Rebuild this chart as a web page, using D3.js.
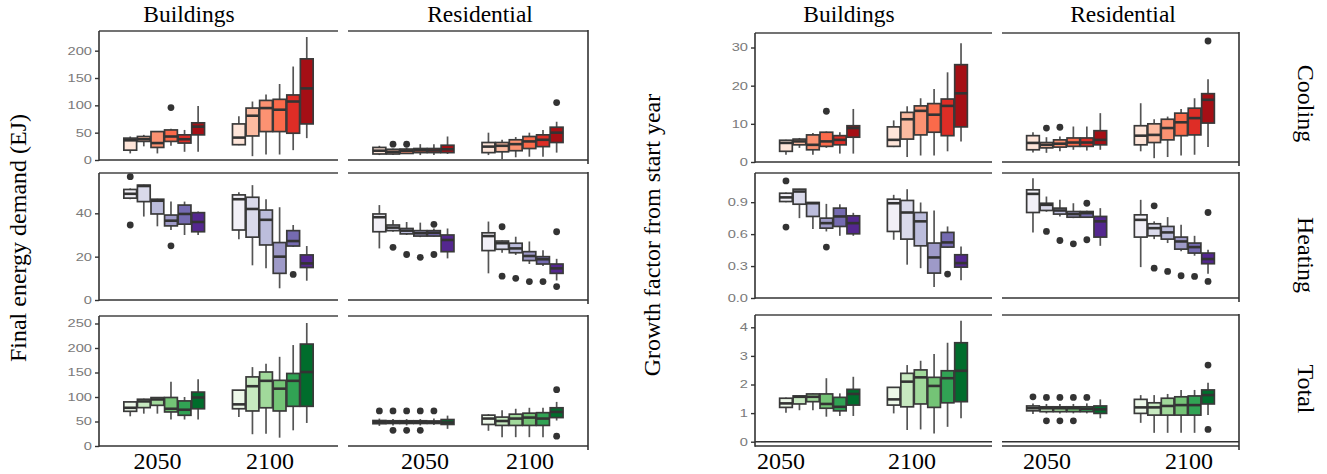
<!DOCTYPE html>
<html><head><meta charset="utf-8">
<script src="https://cdn.jsdelivr.net/npm/d3@7"></script>
<style>body{margin:0;background:#fff}</style>
</head><body><svg id="c" width="1327" height="474"></svg>
<script>
// ---------- DATA ----------
const years = ["2050", "2100"];
const columns = ["Buildings", "Residential"];
const rowLabels = ["Cooling", "Heating", "Total"];
const leftYTitle = "Final energy demand (EJ)";
const rightYTitle = "Growth factor from start year";

const ticksEnergyCooling = [0, 50, 100, 150, 200];
const ticksEnergyHeating = [0, 20, 40];
const ticksEnergyTotal = [0, 50, 100, 150, 200, 250];
const ticksGrowthCooling = [0, 10, 20, 30];
const ticksGrowthHeating = [0, 0.3, 0.6, 0.9];
const ticksGrowthTotal = [0, 1, 2, 3, 4];

// box stats: [lower whisker, q1, median, q3, upper whisker]; 6 boxes for 2050, then 6 for 2100
const energyCoolingBuildings = [
  [12,18,36,40,43],[25,34,38,43,46],[12,23,31,52,53],[26,34,43,55,57],[15,31,38,46,55],[15,46,61,68,99],
  [27,28,41,66,80],[7,44,81,95,107],[10,52,95,109,120],[10,52,92,111,139],[18,49,107,119,171],[40,66,131,185,225]];
const energyCoolingBuildingsOut = [[3,96]]; // [box index, value]
const energyCoolingResidential = [
  [9,11,17,23,26],[9,11,15,19.6,21],[11,12,17,20,23],[9,13.5,17.7,21,29],[9,13.5,17.5,21,29],[11,13.5,19.6,27,43],
  [9,13.5,24.5,32,50],[1,15,26,32,37],[5,17,29,37,42],[6,21,34,43,50],[6,24.5,37,46,55],[13.5,32,50,60,70]];
const energyCoolingResidentialOut = [[1,29],[2,29],[11,105]];

const energyHeatingBuildings = [
  [46.5,47,49,51,51.5],[38.5,45.4,52.6,53,53.2],[34,39.7,45.8,46.5,46.7],[32.3,34.2,36.6,39.2,45.4],[30,35,39.7,43.8,45.4],[30,31.5,36,40.3,40.8],
  [28,32.3,46.5,48.5,49.7],[16,29,42,47.4,53],[14.6,25.4,37,41.5,46.5],[5.4,12.3,20,26.5,42.8],[24.5,24.9,27.2,32,34.6],[8.9,15,16.9,20.8,24.9]];
const energyHeatingBuildingsOut = [[0,56.9],[0,34.6],[3,25],[10,11.8]];
const energyHeatingResidential = [
  [23.8,31.5,38.2,39.7,43.8],[31.5,32,33.4,34.6,36.9],[30,30.5,32,33,36],[29,29.5,30.8,32,35.7],[29.3,29.5,31,32,33],[19.2,22.3,27.7,30,33],
  [12.3,22.8,29.5,31,36.2],[21.8,23.4,26.2,27.2,27.5],[20.8,21.8,23.8,26.2,29.2],[16.6,18.2,20.3,22.3,27],[15.7,16.6,18.8,20,23],[9,12.3,14.6,16.6,19]];
const energyHeatingResidentialOut = [[1,24.3],[2,21],[3,19.7],[4,34.9],[4,21],[7,33.8],[7,11],[8,10],[9,8.5],[10,8.5],[11,31.5],[11,6.2]];

const energyTotalBuildings = [
  [60.6,70.8,78,90,91],[66,78.3,91,95.4,96.7],[66,83,95,98.8,99.5],[54,69.5,76,99,131],[54,62.7,74,92,100],[54,76,99,110,136],
  [59,76,85,114,114.5],[24,71.5,122,141,161],[25,78,133,151,168],[17,71.5,117,134,182],[32,81,133,148,206],[47,81,151,208,251]];
const energyTotalBuildingsOut = [];
const energyTotalResidential = [
  [41,45.5,49,52,56],[42,46,48.5,51.5,55],[42,46,48.5,51.5,55],[42,46,48.5,51.5,55],[43,46,49,51,56],[35,44,48,54,62],
  [31,44,56,63,65],[18,42,51,59,73],[18,42,56,65,76],[18,42,58,67,78],[18,42,56,68,78],[52,58,69.5,78,90]];
const energyTotalResidentialOut = [[0,71.5],[1,71.5],[2,71.5],[3,71.5],[4,71.5],[1,32],[2,32],[3,32],[11,115],[11,20]];

const growthCoolingBuildings = [
  [1.9,2.8,5,5.7,5.8],[3.7,4.5,5.4,6,6.3],[1.9,3.2,4.5,7.1,7.6],[3.7,4.1,5.4,7.8,8],[2.2,4.5,5.8,6.9,7.8],[2.2,6.5,8.9,9.5,13.9],
  [3.9,4.1,5.8,9.2,10.9],[1.3,6,11.2,13,14.6],[1.7,7.1,13.4,14.7,16.7],[1.7,7.8,12.4,15.3,19.1],[2.8,6.9,14.7,16.5,23.5],[5.4,9.2,18,25.5,31.1]];
const growthCoolingBuildingsOut = [[3,13.3]];
const growthCoolingResidential = [
  [2.5,3.2,5,6.9,7.8],[2.4,3.7,4.5,5.1,6.5],[2.8,3.9,4.8,5.8,6.7],[3.2,4.1,5.1,6.3,9.3],[3,4.1,5.1,6.3,9.3],[3.2,4.5,5.8,8.2,12.8],
  [2.8,4.5,6.9,9.5,15.4],[1,5.1,7.1,10,11.2],[1.3,5.8,8.9,11.2,11.9],[1.7,6.9,10.4,12.8,13.9],[1.9,7.1,11.5,14.1,16.7],[3.9,10.2,16.3,17.9,21.7]];
const growthCoolingResidentialOut = [[1,8.9],[2,9.1],[11,31.7]];

const growthHeatingBuildings = [
  [0.9,0.906,0.945,0.984,0.99],[0.75,0.881,1.0,1.022,1.025],[0.647,0.766,0.89,0.897,0.9],[0.625,0.656,0.703,0.75,0.884],[0.584,0.672,0.766,0.844,0.88],[0.584,0.603,0.703,0.772,0.8],
  [0.547,0.625,0.89,0.928,0.969],[0.313,0.553,0.803,0.916,1.022],[0.28,0.49,0.72,0.803,0.897],[0.103,0.234,0.381,0.516,0.822],[0.47,0.478,0.522,0.616,0.672],[0.166,0.29,0.328,0.406,0.484]];
const growthHeatingBuildingsOut = [[0,1.1],[0,0.666],[3,0.478],[10,0.225]];
const growthHeatingResidential = [
  [0.616,0.803,0.978,1.016,1.125],[0.81,0.822,0.875,0.89,0.953],[0.766,0.788,0.822,0.844,0.922],[0.75,0.759,0.788,0.812,0.89],[0.755,0.759,0.797,0.812,0.82],[0.49,0.572,0.72,0.766,0.844],
  [0.29,0.572,0.734,0.781,0.922],[0.553,0.584,0.656,0.697,0.72],[0.516,0.553,0.616,0.672,0.76],[0.438,0.459,0.531,0.572,0.688],[0.397,0.422,0.478,0.516,0.584],[0.228,0.322,0.366,0.422,0.453]];
const growthHeatingResidentialOut = [[1,0.625],[2,0.54],[3,0.509],[4,0.89],[4,0.547],[7,0.866],[7,0.28],[8,0.25],[9,0.209],[10,0.203],[11,0.803],[11,0.156]];

const growthTotalBuildings = [
  [1.01,1.2,1.34,1.52,1.55],[1.1,1.32,1.57,1.6,1.61],[1.1,1.4,1.57,1.67,1.69],[0.875,1.17,1.32,1.67,2.22],[0.9,1.08,1.22,1.55,1.69],[0.9,1.28,1.67,1.83,2.27],
  [0.99,1.28,1.48,1.9,1.91],[0.41,1.22,2.1,2.39,2.68],[0.43,1.32,2.25,2.51,2.83],[0.29,1.2,1.95,2.25,3.07],[0.52,1.36,2.22,2.48,3.46],[0.82,1.4,2.48,3.46,4.23]];
const growthTotalBuildingsOut = [];
const growthTotalResidential = [
  [0.97,1.08,1.17,1.25,1.34],[0.99,1.05,1.17,1.22,1.32],[0.99,1.05,1.17,1.22,1.32],[0.99,1.05,1.17,1.22,1.32],[0.99,1.05,1.15,1.22,1.34],[0.82,0.99,1.13,1.25,1.48],
  [0.66,0.99,1.2,1.48,1.63],[0.31,0.93,1.2,1.36,1.63],[0.31,0.93,1.25,1.52,1.67],[0.31,0.93,1.28,1.57,1.81],[0.31,0.93,1.28,1.6,1.81],[0.93,1.32,1.63,1.81,2.06]];
const growthTotalResidentialOut = [[0,1.57],[1,1.55],[2,1.55],[3,1.55],[4,1.55],[1,0.73],[2,0.73],[3,0.73],[11,2.68],[11,0.43]];

// ---------- STYLE / LAYOUT ----------
const palettes = [
  ["#FEE5D9","#FCBBA1","#FC9272","#FB6A4A","#DE2D26","#A50F15"],
  ["#F2F0F7","#DADAEB","#BCBDDC","#9E9AC8","#756BB1","#54278F"],
  ["#EDF8E9","#C7E9C0","#A1D99B","#74C476","#31A354","#006D2C"]
];
const serif = "'Liberation Serif','Times New Roman',serif";
const figures = [
  {
    cols: [[99,338],[348,588]],
    rows: [[31,160],[173,300],[316,446]],
    domains: [[0,236],[0,58.6],[0,265.3]],
    ticks: [ticksEnergyCooling, ticksEnergyHeating, ticksEnergyTotal],
    fmt: [d3.format("d"), d3.format("d"), d3.format("d")],
    stats: [[energyCoolingBuildings, energyCoolingResidential],[energyHeatingBuildings, energyHeatingResidential],[energyTotalBuildings, energyTotalResidential]],
    outs: [[energyCoolingBuildingsOut, energyCoolingResidentialOut],[energyHeatingBuildingsOut, energyHeatingResidentialOut],[energyTotalBuildingsOut, energyTotalResidentialOut]],
    title: leftYTitle, titlePos: [26, 238],
    headerX: [189, 480], headerY: 22,
    labelX: [[157.5, 270],[425, 530]],
    strips: false
  },
  {
    cols: [[755,992],[1002,1239]],
    rows: [[33,162],[173,298],[315,446]],
    domains: [[0,33.8],[0,1.174],[-0.15,4.43]],
    ticks: [ticksGrowthCooling, ticksGrowthHeating, ticksGrowthTotal],
    fmt: [d3.format("d"), d3.format(".1f"), d3.format("d")],
    stats: [[growthCoolingBuildings, growthCoolingResidential],[growthHeatingBuildings, growthHeatingResidential],[growthTotalBuildings, growthTotalResidential]],
    outs: [[growthCoolingBuildingsOut, growthCoolingResidentialOut],[growthHeatingBuildingsOut, growthHeatingResidentialOut],[growthTotalBuildingsOut, growthTotalResidentialOut]],
    title: rightYTitle, titlePos: [660, 235],
    headerX: [849, 1123], headerY: 22,
    labelX: [[781, 912],[1047, 1189]],
    strips: true, stripX: 1298, stripY: [103.5, 255, 389]
  }
];

const svg = d3.select("#c");
svg.append("rect").attr("width",1327).attr("height",474).attr("fill","#fff");

figures.forEach(fig => {
  fig.rows.forEach((rr, ri) => {
    const [yt, yb] = rr;
    const y = d3.scaleLinear().domain(fig.domains[ri]).range([yb, yt]);
    fig.cols.forEach((cc, ci) => {
      const [x0, x1] = cc;
      const x = d3.scalePoint().domain(years).range([x0, x1]).padding(0.6);
      const dw = x.step() * 0.75;
      const inner = d3.scaleBand().domain(d3.range(6)).range([-dw/2, dw/2]);
      const bw = inner.bandwidth();
      const g = svg.append("g");
      const stats = fig.stats[ri][ci];
      const outs = fig.outs[ri][ci];
      const cx = i => x(years[Math.floor(i/6)]) + inner(i % 6) + bw/2;

      // frame lines
      g.append("line").attr("x1",x0).attr("x2",x1).attr("y1",yt).attr("y2",yt)
        .attr("stroke","#444").attr("stroke-width",1.4);
      g.append("line").attr("x1",x0).attr("x2",x1).attr("y1",yb).attr("y2",yb)
        .attr("stroke","#333").attr("stroke-width",1.6);
      if (Math.abs(y(0) - yb) > 1) {
        g.append("line").attr("x1",x0).attr("x2",x1).attr("y1",y(0)).attr("y2",y(0))
          .attr("stroke","#333").attr("stroke-width",1.6);
      }
      if (ci === 1) {
        g.append("line").attr("x1",x1).attr("x2",x1).attr("y1",yt-1).attr("y2",yb+4)
          .attr("stroke","#333").attr("stroke-width",1.6);
      }

      // whiskers
      g.selectAll(".wh").data(stats).join("line")
        .attr("x1",(d,i)=>cx(i)).attr("x2",(d,i)=>cx(i))
        .attr("y1",d=>y(d[0])).attr("y2",d=>y(d[4]))
        .attr("stroke","#555").attr("stroke-width",1.7);
      // boxes
      g.selectAll(".bx").data(stats).join("rect")
        .attr("x",(d,i)=>cx(i)-bw/2+0.4).attr("width",bw-0.8)
        .attr("y",d=>y(d[3])).attr("height",d=>Math.max(0.5, y(d[1])-y(d[3])))
        .attr("fill",(d,i)=>palettes[ri][i%6])
        .attr("stroke","#3a3a3a").attr("stroke-width",1.7);
      // medians
      g.selectAll(".md").data(stats).join("line")
        .attr("x1",(d,i)=>cx(i)-bw/2+0.4).attr("x2",(d,i)=>cx(i)+bw/2-0.4)
        .attr("y1",d=>y(d[2])).attr("y2",d=>y(d[2]))
        .attr("stroke","#333").attr("stroke-width",2.6);
      // outliers
      g.selectAll(".ol").data(outs).join("circle")
        .attr("cx",d=>cx(d[0])).attr("cy",d=>y(d[1])).attr("r",3.4)
        .attr("fill","#333");

      // y axis
      if (ci === 0) {
        const ax = g.append("g").attr("transform",`translate(${x0},0)`)
          .call(d3.axisLeft(y).tickValues(fig.ticks[ri]).tickFormat(fig.fmt[ri]).tickSize(4).tickSizeOuter(0));
        ax.select(".domain").attr("stroke","#333").attr("stroke-width",1.6)
          .attr("d",`M0,${yb+0.8}V${yt}`);
        ax.selectAll(".tick line").attr("stroke","#333").attr("stroke-width",1.4);
        ax.selectAll(".tick text")
          .attr("fill","#7a7a7a").attr("font-family","'Liberation Sans',Arial,sans-serif")
          .attr("font-size",10.6).attr("x",-7/1.38).attr("transform","scale(1.38,1)");
      }
      // x labels
      if (ri === 2) {
        years.forEach((yr, k) => {
          svg.append("text").attr("x", fig.labelX[ci][k]).attr("y", 469)
            .attr("text-anchor","middle").attr("font-family",serif).attr("font-size",24)
            .attr("fill","#000").text(yr);
        });
      }
    });
    if (fig.strips) {
      svg.append("text")
        .attr("transform",`translate(${fig.stripX},${fig.stripY[ri]}) rotate(90)`)
        .attr("text-anchor","middle").attr("font-family",serif).attr("font-size",24)
        .text(rowLabels[ri]);
    }
  });
  // headers
  columns.forEach((c, ci) => {
    svg.append("text").attr("x", fig.headerX[ci]).attr("y", fig.headerY)
      .attr("text-anchor","middle").attr("font-family",serif).attr("font-size",23.5)
      .text(c);
  });
  svg.append("text")
    .attr("transform",`translate(${fig.titlePos[0]},${fig.titlePos[1]}) rotate(-90)`)
    .attr("text-anchor","middle").attr("font-family",serif).attr("font-size",24)
    .text(fig.title);
});
</script>
</body></html>
